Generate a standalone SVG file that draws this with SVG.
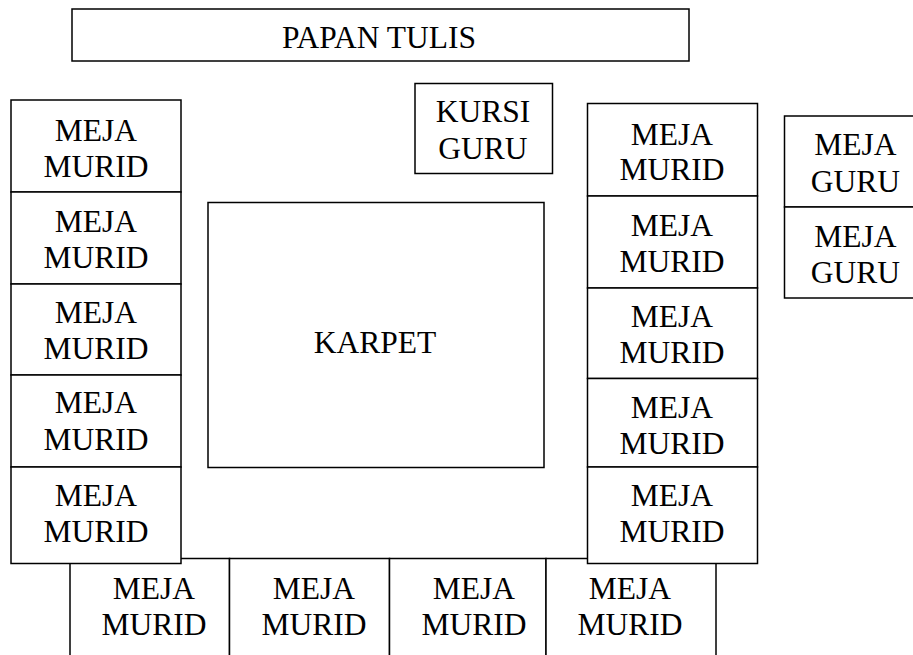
<svg xmlns="http://www.w3.org/2000/svg" width="913" height="655" viewBox="0 0 913 655">
<style>
rect{fill:#fff;stroke:#000;stroke-width:1.5}
text{font-family:Liberation Serif, DejaVu Serif, Times New Roman, Times, serif;font-size:31.5px;fill:#000;text-anchor:middle}
</style>
<rect x="0" y="0" width="913" height="655" style="stroke:none"/>
<g id="connectors"></g>
<g id="papan-tulis"><rect x="72" y="9" width="617" height="52"/><text x="379" y="48.3">PAPAN TULIS</text></g>
<g id="kursi-guru"><rect x="415" y="83.5" width="137.5" height="90"/><text x="483" y="122.3">KURSI</text><text x="483" y="159.3">GURU</text></g>
<g id="karpet"><rect x="208" y="202.5" width="336" height="265"/><text x="375" y="352.7">KARPET</text></g>
<g id="bawah-1"><rect x="70" y="558.5" width="159.5" height="110"/><text x="154" y="599.3">MEJA</text><text x="154" y="635">MURID</text></g>
<g id="bawah-2"><rect x="229.5" y="558.5" width="160" height="110"/><text x="314" y="599.3">MEJA</text><text x="314" y="635">MURID</text></g>
<g id="bawah-3"><rect x="389.5" y="558.5" width="156.5" height="110"/><text x="474" y="599.3">MEJA</text><text x="474" y="635">MURID</text></g>
<g id="bawah-4"><rect x="546" y="558.5" width="170" height="110"/><text x="630" y="599.3">MEJA</text><text x="630" y="635">MURID</text></g>
<g id="kiri-1"><rect x="11" y="100" width="170" height="92"/><text x="96" y="141">MEJA</text><text x="96" y="176.7">MURID</text></g>
<g id="kiri-2"><rect x="11" y="192" width="170" height="92"/><text x="96" y="231.7">MEJA</text><text x="96" y="268.3">MURID</text></g>
<g id="kiri-3"><rect x="11" y="284" width="170" height="91"/><text x="96" y="323.3">MEJA</text><text x="96" y="359">MURID</text></g>
<g id="kiri-4"><rect x="11" y="375" width="170" height="92"/><text x="96" y="413.3">MEJA</text><text x="96" y="450">MURID</text></g>
<g id="kiri-5"><rect x="11" y="467" width="170" height="96.5"/><text x="96" y="506">MEJA</text><text x="96" y="541.7">MURID</text></g>
<g id="kanan-1"><rect x="587.5" y="103.5" width="170" height="92.5"/><text x="672" y="145">MEJA</text><text x="672" y="180">MURID</text></g>
<g id="kanan-2"><rect x="587.5" y="196" width="170" height="92"/><text x="672" y="236">MEJA</text><text x="672" y="271.7">MURID</text></g>
<g id="kanan-3"><rect x="587.5" y="288" width="170" height="90.5"/><text x="672" y="326.7">MEJA</text><text x="672" y="363.3">MURID</text></g>
<g id="kanan-4"><rect x="587.5" y="378.5" width="170" height="88.5"/><text x="672" y="417.7">MEJA</text><text x="672" y="454.3">MURID</text></g>
<g id="kanan-5"><rect x="587.5" y="467" width="170" height="96.5"/><text x="672" y="506">MEJA</text><text x="672" y="541.7">MURID</text></g>
<g id="meja-guru-1"><rect x="784.5" y="116" width="170" height="91"/><text x="855.5" y="155">MEJA</text><text x="855.5" y="191.7">GURU</text></g>
<g id="meja-guru-2"><rect x="784.5" y="207" width="170" height="91"/><text x="855.5" y="246.7">MEJA</text><text x="855.5" y="283.3">GURU</text></g>
</svg>
